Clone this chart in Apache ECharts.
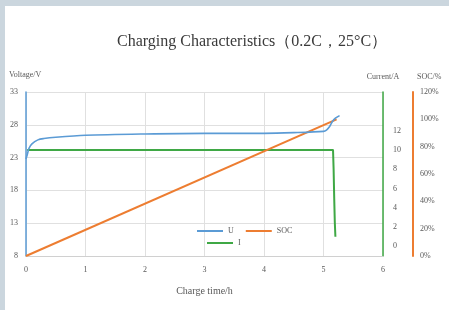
<!DOCTYPE html>
<html>
<head>
<meta charset="utf-8">
<script src="https://cdn.jsdelivr.net/npm/echarts@6/dist/echarts.min.js"></script>
<style>
  html, body { margin: 0; padding: 0; width: 449px; height: 310px; background: #cbd6de; overflow: hidden; }
  #chart { position: absolute; left: 5px; top: 6px; width: 444px; height: 304px; background: #fff; }
</style>
</head>
<body>
<div id="chart"></div>
<script>
// 电压 U
const timeU = [0, 0.02, 0.05, 0.1, 0.2, 0.3, 0.5, 1, 2, 3, 4, 4.5, 5, 5.05, 5.1, 5.15, 5.2, 5.27];
const voltU = [22.8, 23.4, 24.4, 25.1, 25.7, 25.9, 26.1, 26.4, 26.6, 26.7, 26.7, 26.8, 27.0, 27.2, 27.7, 28.5, 29.0, 29.4];
// SOC
const timeSoc = [0, 5.22];
const socVal = [0, 100];
// 电流 I
const timeI = [0.02, 5.16, 5.17, 5.18, 5.19, 5.2];
const currI = [10, 10, 8, 5, 2.5, 1];

const xTicks = [0, 1, 2, 3, 4, 5, 6];
const currentLabels = [0, 2, 4, 6, 8, 10, 12];

const COLORS = { u: '#5b9bd5', soc: '#ed7d31', i: '#3fa845', text: '#595959', grid: '#e0e0e0' };
const FONT = 'Liberation Serif';

const zip = (xs, ys) => xs.map((x, i) => [x, ys[i]]);

const chart = echarts.init(document.getElementById('chart'));
const labelStyle = { color: COLORS.text, fontSize: 8, fontFamily: FONT };

chart.setOption({
  animation: false,
  title: {
    text: 'Charging Characteristics（0.2C，25°C）',
    left: 107, top: 23,
    textStyle: { fontFamily: FONT, fontSize: 16, fontWeight: 'normal', color: '#3a3a3a' }
  },
  grid: { left: 21, right: 66, top: 86, bottom: 54 },
  legend: [
    {
      data: ['U', 'SOC'], left: 187, top: 216, itemGap: 12,
      icon: 'rect', itemWidth: 26, itemHeight: 2,
      textStyle: { ...labelStyle, fontSize: 8 }
    },
    {
      data: ['I'], left: 197, top: 228,
      icon: 'rect', itemWidth: 26, itemHeight: 2,
      textStyle: { ...labelStyle, fontSize: 8 }
    }
  ],
  xAxis: {
    type: 'value', min: 0, max: 6, interval: 1,
    name: 'Charge time/h', nameLocation: 'middle', nameGap: 30,
    nameTextStyle: { ...labelStyle, fontSize: 10 },
    axisLine: { onZero: false, lineStyle: { color: '#d0d0d0' } },
    axisTick: { show: false },
    axisLabel: { ...labelStyle, margin: 10, formatter: v => xTicks.includes(v) ? String(v) : '' },
    splitLine: { lineStyle: { color: COLORS.grid } }
  },
  yAxis: [
    {
      type: 'value', min: 8, max: 33, interval: 5, position: 'left',
      name: 'Voltage/V', nameGap: 13,
      nameTextStyle: { ...labelStyle, align: 'left', padding: [0, 0, 0, -17] },
      axisLine: { show: true, onZero: false, lineStyle: { color: COLORS.u, width: 1.5 } },
      axisTick: { show: false },
      axisLabel: { ...labelStyle, margin: 8 },
      splitLine: { lineStyle: { color: COLORS.grid } }
    },
    {
      type: 'value', min: -1, max: 16, interval: 1, position: 'right',
      name: 'Current/A', nameGap: 11,
      nameTextStyle: { ...labelStyle },
      axisLine: { show: true, onZero: false, lineStyle: { color: COLORS.i, width: 1.5 } },
      axisTick: { show: false },
      axisLabel: { ...labelStyle, margin: 10, formatter: v => currentLabels.includes(v) ? String(v) : '' },
      splitLine: { show: false }
    },
    {
      type: 'value', min: 0, max: 120, interval: 20, position: 'right', offset: 30,
      name: 'SOC/%', nameGap: 11,
      nameTextStyle: { ...labelStyle, align: 'left', padding: [0, 0, 0, 4] },
      axisLine: { show: true, onZero: false, lineStyle: { color: COLORS.soc, width: 2 } },
      axisTick: { show: false },
      axisLabel: { ...labelStyle, margin: 7, formatter: '{value}%' },
      splitLine: { show: false }
    }
  ],
  series: [
    {
      name: 'U', type: 'line', yAxisIndex: 0, data: zip(timeU, voltU),
      symbol: 'none', smooth: 0.3, lineStyle: { color: COLORS.u, width: 1.6 }, itemStyle: { color: COLORS.u }, z: 4
    },
    {
      name: 'SOC', type: 'line', yAxisIndex: 2, data: zip(timeSoc, socVal),
      symbol: 'none', lineStyle: { color: COLORS.soc, width: 2 }, itemStyle: { color: COLORS.soc }, z: 3
    },
    {
      name: 'I', type: 'line', yAxisIndex: 1, data: zip(timeI, currI),
      symbol: 'none', lineStyle: { color: COLORS.i, width: 2 }, itemStyle: { color: COLORS.i }, z: 2
    }
  ]
});
</script>
</body>
</html>
